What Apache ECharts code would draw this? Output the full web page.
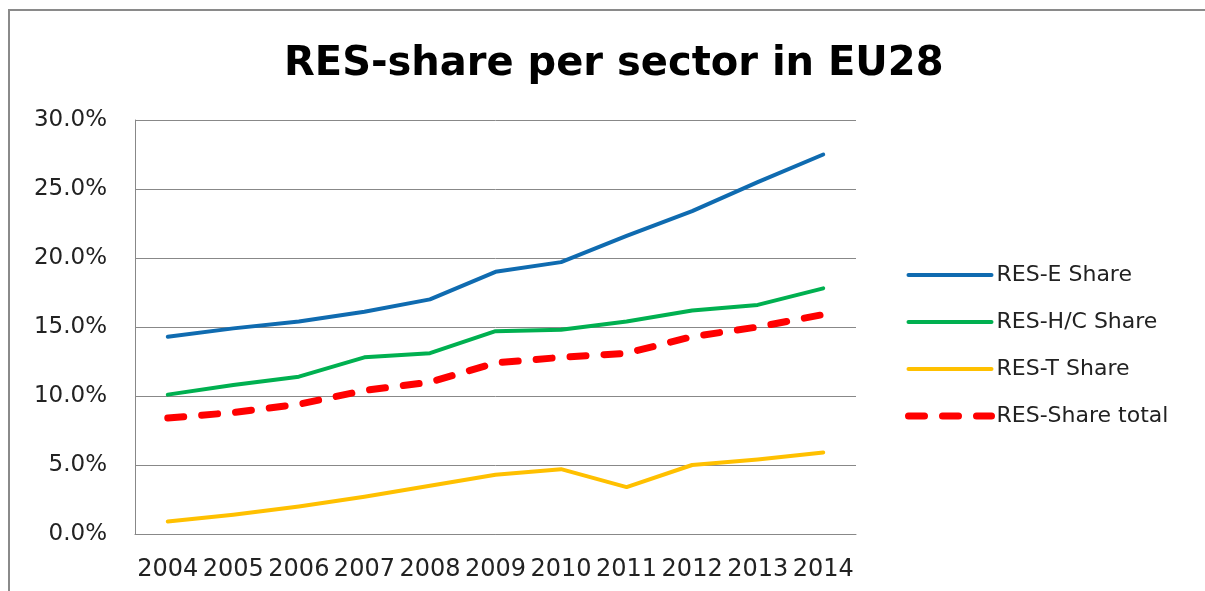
<!DOCTYPE html>
<html>
<head>
<meta charset="utf-8">
<script src="https://cdn.jsdelivr.net/npm/echarts@6/dist/echarts.min.js"></script>
<style>
  html, body { margin: 0; padding: 0; background: #fff; }
  #chart { width: 1205px; height: 591px; }
</style>
</head>
<body>
<div id="chart"></div>
<script>
// Jahre (Kategorien)
var years = ['2004', '2005', '2006', '2007', '2008', '2009', '2010', '2011', '2012', '2013', '2014'];

// Anteile in Prozent
var resE = [14.3, 14.9, 15.4, 16.1, 17.0, 19.0, 19.7, 21.6, 23.4, 25.5, 27.5];
var resHC = [10.1, 10.8, 11.4, 12.8, 13.1, 14.7, 14.8, 15.4, 16.2, 16.6, 17.8];
var resT = [0.9, 1.4, 2.0, 2.7, 3.5, 4.3, 4.7, 3.4, 5.0, 5.4, 5.9];
var resTotal = [8.4, 8.8, 9.4, 10.4, 11.0, 12.4, 12.8, 13.1, 14.3, 15.0, 15.9];

var seriesNames = ['RES-E Share', 'RES-H/C Share', 'RES-T Share', 'RES-Share total'];
var yTicks = { min: 0, max: 30, interval: 5 };

var chart = echarts.init(document.getElementById('chart'));

var option = {
    backgroundColor: '#fff',
    animation: false,
    title: {
        text: 'RES-share per sector in EU28',
        left: 284,
        top: 45,
        padding: 0,
        textStyle: {
            fontFamily: 'DejaVu Sans',
            fontWeight: 'bold',
            fontSize: 40,
            color: '#000'
        }
    },
    graphic: [{
        // Rahmen des Diagrammbereichs
        type: 'rect',
        shape: { x: 9, y: 10, width: 1230, height: 620 },
        style: { fill: 'none', stroke: '#8a8a8a', lineWidth: 2 },
        silent: true
    }],
    legend: {
        orient: 'vertical',
        left: 905,
        top: 264,
        padding: 0,
        itemWidth: 83,
        itemHeight: 14,
        itemGap: 25,
        itemStyle: { opacity: 0 },
        data: [
            { name: seriesNames[0], lineStyle: { width: 4 } },
            { name: seriesNames[1], lineStyle: { width: 4 } },
            { name: seriesNames[2], lineStyle: { width: 4 } },
            { name: seriesNames[3], lineStyle: { width: 7 } }
        ],
        textStyle: {
            fontFamily: 'DejaVu Sans',
            fontSize: 22,
            lineHeight: 22,
            color: '#222',
            padding: [0, 0, 0, 0]
        }
    },
    grid: {
        left: 135,
        top: 120,
        right: 349,
        bottom: 57
    },
    xAxis: {
        type: 'category',
        data: years,
        boundaryGap: true,
        axisLine: { show: true, lineStyle: { color: '#888', width: 1 } },
        axisTick: { show: false },
        axisLabel: {
            interval: 0,
            margin: 24,
            fontFamily: 'DejaVu Sans',
            fontSize: 24,
            color: '#222'
        }
    },
    yAxis: {
        type: 'value',
        min: yTicks.min,
        max: yTicks.max,
        interval: yTicks.interval,
        axisLine: { show: true, lineStyle: { color: '#888', width: 1 } },
        axisTick: { show: false },
        splitLine: { show: true, lineStyle: { color: '#888', width: 1 } },
        axisLabel: {
            margin: 28,
            fontFamily: 'DejaVu Sans',
            fontSize: 23,
            color: '#222',
            formatter: function (v) { return v.toFixed(1) + '%'; }
        }
    },
    series: [
        {
            name: seriesNames[0], type: 'line', data: resE,
            symbol: 'none', color: '#0F6BB0',
            lineStyle: { width: 4, cap: 'round', join: 'round' }
        },
        {
            name: seriesNames[1], type: 'line', data: resHC,
            symbol: 'none', color: '#00B050',
            lineStyle: { width: 4, cap: 'round', join: 'round' }
        },
        {
            name: seriesNames[2], type: 'line', data: resT,
            symbol: 'none', color: '#FFC000',
            lineStyle: { width: 4, cap: 'round', join: 'round' }
        },
        {
            name: seriesNames[3], type: 'line', data: resTotal,
            symbol: 'none', color: '#FF0000',
            lineStyle: { width: 7, type: [16, 18], cap: 'round', join: 'round' }
        }
    ]
};

chart.setOption(option);
</script>
</body>
</html>
